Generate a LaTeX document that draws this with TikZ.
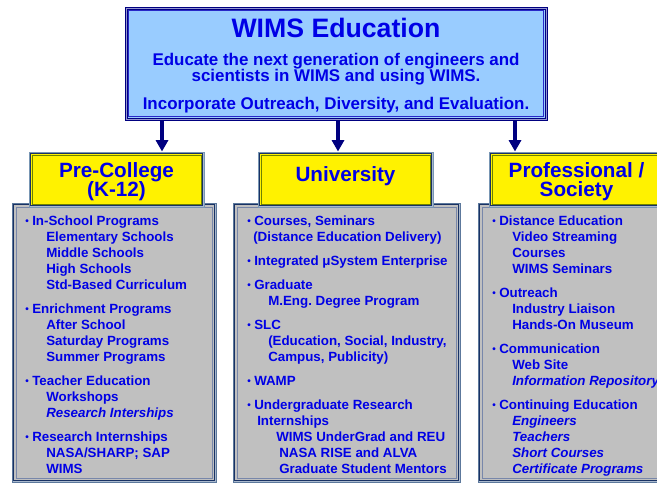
\documentclass[tikz,border=0pt]{standalone}
\usepackage{fontspec}
\setmainfont{Liberation Sans}
\usetikzlibrary{arrows.meta,fit}
\frenchspacing
\definecolor{navy}{RGB}{0,0,128}
\definecolor{txtblue}{RGB}{0,0,230}
\definecolor{skyfill}{RGB}{153,204,255}
\definecolor{lavband}{RGB}{150,150,210}
\definecolor{midblue}{RGB}{40,40,200}
\definecolor{steelout}{RGB}{120,150,180}
\definecolor{steelband}{RGB}{170,185,205}
\definecolor{darkframe}{RGB}{25,50,100}
\definecolor{olive}{RGB}{110,130,0}
\definecolor{grayfill}{RGB}{192,192,192}
\definecolor{grayline}{RGB}{120,135,170}
\newcommand\wBul[4]{%
  \node[bul] (#1b) at (#2,#3-1) {•};
  \node[body] (#1) at (#2+7,#3) {#4};}
\newcommand\wSub[4]{\node[body] (#1) at (#2,#3) {#4};}
\newcommand\wIt[4]{\node[itbody] (#1) at (#2,#3) {#4};}
\begin{document}
\begin{tikzpicture}[x=0.75pt,y=-0.75pt,
  body/.style={anchor=base west, inner sep=0pt, text=txtblue, font=\fontsize{10}{12}\selectfont\bfseries},
  itbody/.style={body, font=\fontsize{10}{12}\selectfont\bfseries\itshape},
  bul/.style={anchor=base west, inner sep=0pt, text=txtblue, font=\fontsize{7.5}{8}\selectfont\bfseries},
  boxfit/.style={inner sep=0pt, line width=0.75pt},
  graybox/.style={boxfit, draw=steelout!70!darkframe, fill=steelband},
  yelbox/.style={boxfit, draw=steelout, fill=steelband},
  topboxs/.style={boxfit, draw=navy, fill=lavband},
  head/.style={align=center, text=txtblue, font=\fontsize{15.5}{19.5}\selectfont\bfseries, inner sep=0pt, text height=11.5pt, text depth=2.5pt},
  sub/.style={anchor=base, text=txtblue, font=\fontsize{12.7}{15}\selectfont\bfseries, inner sep=0pt},
  arr/.style={draw=navy, line width=2.6pt, -{Triangle[width=9pt,length=8.5pt]}}
]
\useasboundingbox (0,0) rectangle (657,483);

% gray content boxes
\foreach \nm/\xa/\xb in {gpre/12/216, guni/233/460, gpro/478/680}{
  \node[graybox, fit={(\xa,203) (\xb,482)}] (\nm) {};
  \draw[darkframe, line width=0.75pt, fill=grayfill] ([shift={(2,2)}]\nm.north west) rectangle ([shift={(-2,-2)}]\nm.south east);
  \draw[grayline, line width=0.6pt] ([shift={(4.5,4.5)}]\nm.north west) rectangle ([shift={(-4.5,-4.5)}]\nm.south east);
}

% yellow header boxes
\foreach \nm/\xa/\xb in {pre/29/204, uni/258/433, pro/489/664}{
  \node[yelbox, fit={(\xa,152) (\xb,207)}] (\nm) {};
  \draw[darkframe, line width=0.75pt, fill=yellow] ([shift={(2,2)}]\nm.north west) rectangle ([shift={(-2,-2)}]\nm.south east);
  \draw[olive, line width=0.75pt] ([shift={(3.5,3.5)}]\nm.north west) rectangle ([shift={(-3.5,-3.5)}]\nm.south east);
}

% top box
\node[topboxs, fit={(125,7) (547,120)}] (top) {};
\draw[navy, line width=0.75pt, fill=skyfill] ([shift={(2.5,2.5)}]top.north west) rectangle ([shift={(-2.5,-2.5)}]top.south east);
\draw[midblue, line width=0.6pt] ([shift={(4,4)}]top.north west) rectangle ([shift={(-4,-4)}]top.south east);

\node[anchor=base, text=txtblue, font=\fontsize{20}{24}\selectfont\bfseries, inner sep=0pt] (title) at (336,37) {WIMS Education};
\node[sub] (s1) at (336,65) {Educate the next generation of engineers and};
\node[sub] (s2) at (336,81) {scientists in WIMS and using WIMS.};
\node[sub] (s3) at (336,109) {Incorporate Outreach, Diversity, and Evaluation.};

% arrows
\coordinate (a1) at (162,120);
\coordinate (a2) at (338,120);
\coordinate (a3) at (515,120);
\draw[arr] (a1) -- (a1 |- pre.north);
\draw[arr] (a2) -- (a2 |- uni.north);
\draw[arr] (a3) -- (a3 |- pro.north);

% headers
\node[head, anchor=base] (hpre1) at (116.5,177) {Pre-College};
\node[head, anchor=base] (hpre2) at (116.5,196) {(K-12)};
\node[head, anchor=base] (huni) at (345.5,181) {University};
\node[head, anchor=base] (hpro1) at (576.5,177) {Professional /};
\node[head, anchor=base] (hpro2) at (576.5,196) {Society};

% Pre-College column
\wBul{p1}{25}{225}{In-School Programs}
\wSub{p2}{46}{241}{Elementary Schools}
\wSub{p3}{46}{257}{Middle Schools}
\wSub{p4}{46}{273}{High Schools}
\wSub{p5}{46}{289}{Std-Based Curriculum}
\wBul{p6}{25}{313}{Enrichment Programs}
\wSub{p7}{46}{329}{After School}
\wSub{p8}{46}{345}{Saturday Programs}
\wSub{p9}{46}{361}{Summer Programs}
\wBul{p10}{25}{385}{Teacher Education}
\wSub{p11}{46}{401}{Workshops}
\wIt{p12}{46}{417}{Research Interships}
\wBul{p13}{25}{441}{Research Internships}
\wSub{p14}{46}{457}{NASA/SHARP; SAP}
\wSub{p15}{46}{473}{WIMS}

% University column
\wBul{u1}{247}{225}{Courses, Seminars}
\wSub{u2}{253}{241}{(Distance Education Delivery)}
\wBul{u3}{247}{265}{Integrated μSystem Enterprise}
\wBul{u4}{247}{289}{Graduate}
\wSub{u5}{268}{305}{M.Eng. Degree Program}
\wBul{u6}{247}{329}{SLC}
\wSub{u7}{268}{345}{(Education, Social, Industry,}
\wSub{u8}{268}{361}{Campus, Publicity)}
\wBul{u9}{247}{385}{WAMP}
\wBul{u10}{247}{409}{Undergraduate Research}
\wSub{u11}{257}{425}{Internships}
\wSub{u12}{276}{441}{WIMS UnderGrad and REU}
\wSub{u13}{279}{457}{NASA RISE and ALVA}
\wSub{u14}{279}{473}{Graduate Student Mentors}

% Professional column
\wBul{r1}{492}{225}{Distance Education}
\wSub{r2}{512}{241}{Video Streaming}
\wSub{r3}{512}{257}{Courses}
\wSub{r4}{512}{273}{WIMS Seminars}
\wBul{r5}{492}{297}{Outreach}
\wSub{r6}{512}{313}{Industry Liaison}
\wSub{r7}{512}{329}{Hands-On Museum}
\wBul{r8}{492}{353}{Communication}
\wSub{r9}{512}{369}{Web Site}
\wIt{r10}{512}{385}{Information Repository}
\wBul{r11}{492}{409}{Continuing Education}
\wIt{r12}{512}{425}{Engineers}
\wIt{r13}{512}{441}{Teachers}
\wIt{r14}{512}{457}{Short Courses}
\wIt{r15}{512}{473}{Certificate Programs}
\end{tikzpicture}
\end{document}
